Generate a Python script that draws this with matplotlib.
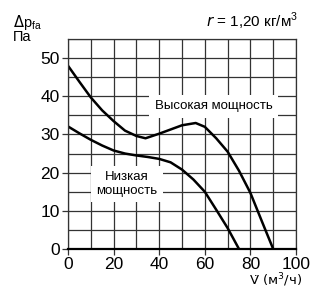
import numpy as np
import matplotlib.pyplot as plt

plt.rcParams['font.family'] = ['Liberation Sans', 'DejaVu Sans']

# curve data
flow_high = [0, 5, 10, 15, 20, 25, 30, 34, 40, 45, 50, 56, 60, 65, 70, 75, 80, 85, 90]
dp_high = [48, 43.8, 39.7, 36.3, 33.5, 31.0, 29.6, 29.0, 30.2, 31.3, 32.4, 33, 32, 29, 25.5, 20.5, 14.7, 7.3, 0]
flow_low = [0, 5, 10, 15, 20, 25, 30, 35, 40, 45, 50, 55, 60, 65, 70, 75]
dp_low = [32.1, 30.3, 28.6, 27.1, 25.8, 25, 24.5, 24.1, 23.6, 22.7, 20.8, 18.2, 15, 10.3, 5.5, 0]

x_ticks = [0, 20, 40, 60, 80, 100]
y_ticks = [0, 10, 20, 30, 40, 50]

fig = plt.figure(figsize=(3.18, 2.90), dpi=100)
ax = fig.add_axes([0.2138, 0.1414, 0.717, 0.7241])

ax.set_xlim(0, 100)
ax.set_ylim(0, 55)
ax.set_xticks(x_ticks)
ax.set_yticks(y_ticks)
ax.set_xticks(np.arange(0, 101, 10), minor=True)
ax.set_yticks(np.arange(0, 56, 5), minor=True)
ax.grid(which='both', color='#333333', linewidth=0.9)
ax.tick_params(which='minor', length=0)
ax.tick_params(which='major', length=4, width=0.9, labelsize=12.5, color='#333333', pad=2)
for s in ax.spines.values():
    s.set_color('#333333')
    s.set_linewidth(0.9)
ax.spines['bottom'].set_linewidth(1.6)
ax.spines['bottom'].set_color('black')
ax.set_axisbelow(True)

ax.plot(flow_high, dp_high, color='black', lw=1.8, solid_joinstyle='round')
ax.plot(flow_low, dp_low, color='black', lw=1.8, solid_joinstyle='round')

box = dict(facecolor='white', edgecolor='none', pad=4)
ax.text(64, 37.4, 'Высокая мощность', ha='center', va='center', fontsize=9.5, bbox=box)
ax.text(25.8, 17, 'Низкая\nмощность', ha='center', va='center', fontsize=9.5,
        linespacing=1.15, bbox=box)

fig.text(0.041, 0.908, r'$\Delta$p$_{\mathregular{fa}}$', fontsize=10.5, ha='left', va='baseline')
fig.text(0.041, 0.857, 'Па', fontsize=10.5, ha='left', va='baseline')
fig.text(0.937, 0.928, r'$\it{r}$ = 1,20 кг/м$^{\mathregular{3}}$', fontsize=11, ha='right', va='center')
fig.text(0.95, 0.018, 'V\u0307 (м$^{3}$/ч)', fontsize=9.5, ha='right', va='baseline',
         family='DejaVu Sans')

fig.savefig('out.png', dpi=100)
